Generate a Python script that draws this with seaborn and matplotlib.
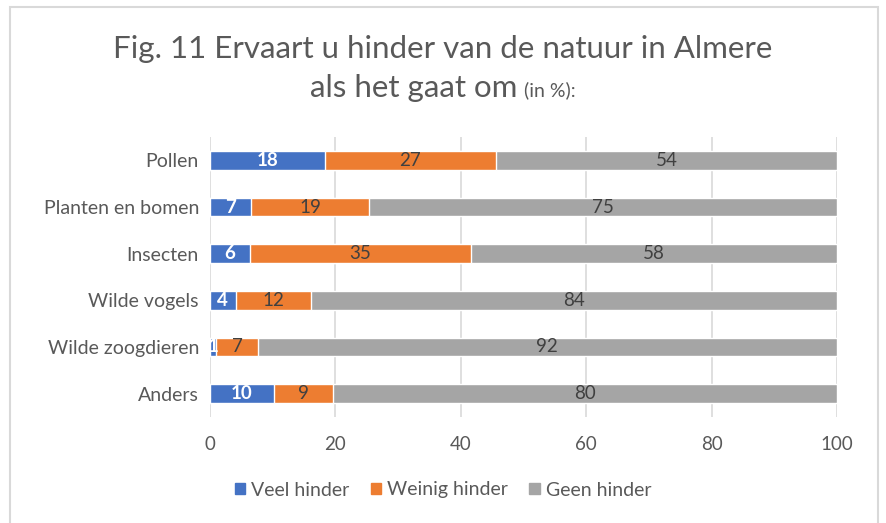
import matplotlib
matplotlib.use('Agg')
import matplotlib.pyplot as plt
import seaborn as sns
import pandas as pd
from matplotlib.patches import Rectangle

# data (percentages)
categorieen = ['Pollen', 'Planten en bomen', 'Insecten', 'Wilde vogels', 'Wilde zoogdieren', 'Anders']
veel_hinder = [18.3, 6.6, 6.4, 4.1, 1.0, 10.2]
weinig_hinder = [27.3, 18.8, 35.2, 12.0, 6.6, 9.4]
geen_hinder = [54.4, 74.6, 58.4, 83.9, 92.4, 80.4]
reeksen = ['Veel hinder', 'Weinig hinder', 'Geen hinder']
kleuren = ['#4472C4', '#ED7D31', '#A5A5A5']
x_ticks = [0, 20, 40, 60, 80, 100]

df = pd.DataFrame({'cat': categorieen, 'Veel hinder': veel_hinder,
                   'Weinig hinder': weinig_hinder, 'Geen hinder': geen_hinder})
df['c1'] = df['Veel hinder']
df['c2'] = df['c1'] + df['Weinig hinder']
df['c3'] = df['c2'] + df['Geen hinder']

sns.set_style('white')
plt.rcParams['font.family'] = ['Lato', 'DejaVu Sans']
tekst = '#595959'

fig = plt.figure(figsize=(8.86, 5.23), dpi=100)
ax = fig.add_axes([210 / 886, 1 - 417 / 523, 627 / 886, 280 / 523])

# gestapelde balken: eerst totaal, dan deelsommen eroverheen
for col, kleur in zip(['c3', 'c2', 'c1'], kleuren[::-1]):
    sns.barplot(data=df, x=col, y='cat', color=kleur, width=0.4, orient='h',
                saturation=1, ax=ax, zorder=3)

# labels in het midden van elk segment (afronden zoals excel, .5 naar boven)
for i, row in df.iterrows():
    start = 0
    for j, r in enumerate(reeksen):
        v = row[r]
        lbl = str(int(v + 0.5))
        if j == 0:
            ax.text(start + v / 2, i, lbl, ha='center', va='center',
                    color='white', fontsize=13.5, fontweight='bold', zorder=5)
        else:
            ax.text(start + v / 2, i, lbl, ha='center', va='center',
                    color='#404040', fontsize=13.5, zorder=5)
        start += v

ax.set_xlim(0, 100)
ax.set_ylim(5.5, -0.5)
ax.set_xticks(x_ticks)
ax.set_xlabel('')
ax.set_ylabel('')
ax.grid(axis='x', color='#D9D9D9', linewidth=1.2, zorder=0)
ax.grid(axis='y', visible=False)
sns.despine(ax=ax, left=True, bottom=True)
ax.tick_params(axis='both', length=0, labelsize=13.5, colors=tekst)
ax.tick_params(axis='x', pad=14)
ax.tick_params(axis='y', labelsize=14, pad=8)

# legenda
handles = [Rectangle((0, 0), 1, 1, color=k) for k in kleuren]
fig.legend(handles, reeksen, loc='center', bbox_to_anchor=(0.5, 1 - 490 / 523), ncol=3,
           frameon=False, fontsize=14, handlelength=0.55, handleheight=0.55,
           handletextpad=0.3, columnspacing=1.1, labelcolor=tekst)

# titel (twee regels, tweede met kleiner stuk)
fig.text(0.5, 1 - 49 / 523, 'Fig. 11 Ervaart u hinder van de natuur in Almere',
         ha='center', va='center', fontsize=22.5, color=tekst)
t1 = fig.text(0.5, 1 - 88 / 523, 'als het gaat om', ha='center', va='center',
              fontsize=22.5, color=tekst)
t2 = fig.text(0.5, 1 - 90 / 523, '(in %):', ha='left', va='center',
              fontsize=14, color=tekst)
fig.canvas.draw()
r = fig.canvas.get_renderer()
w1 = t1.get_window_extent(r).width
w2 = t2.get_window_extent(r).width
gap = 7
links = (886 - (w1 + gap + w2)) / 2
t1.set_ha('left')
t1.set_x(links / 886)
t2.set_x((links + w1 + gap) / 886)

# rand rond de grafiek
fig.patches.append(Rectangle((10 / 886, -0.05), 868 / 886, 1.05 - 7 / 523,
                             transform=fig.transFigure, fill=False,
                             edgecolor='#D9D9D9', linewidth=1.5))

plt.savefig('out.png', dpi=100)
